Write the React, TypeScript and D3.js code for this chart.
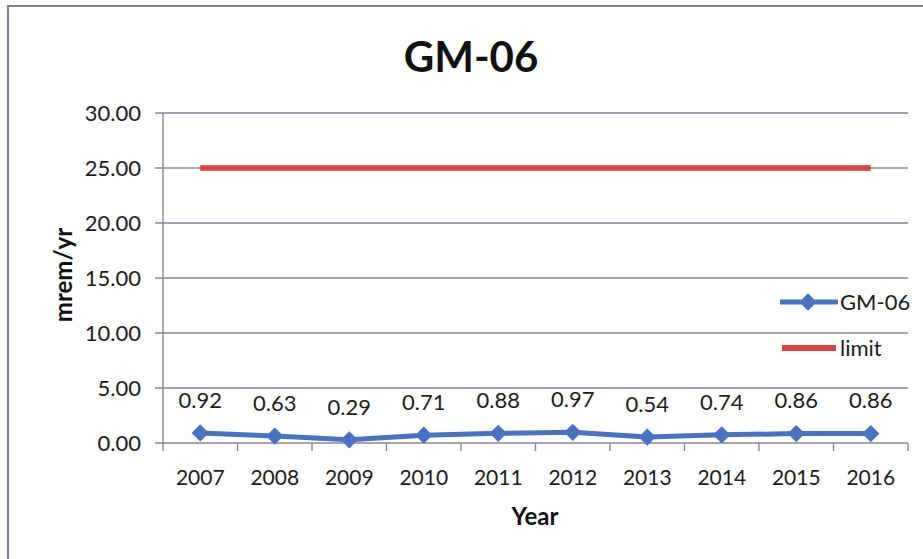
import React from 'react';
import * as d3 from 'd3';

const years = ['2007', '2008', '2009', '2010', '2011', '2012', '2013', '2014', '2015', '2016'];
const gm06 = [0.92, 0.63, 0.29, 0.71, 0.88, 0.97, 0.54, 0.74, 0.86, 0.86];
const limit = [25, 25, 25, 25, 25, 25, 25, 25, 25, 25];
const yTicks = [0, 5, 10, 15, 20, 25, 30];

const W = 923;
const H = 559;
const margin = { top: 113, right: 15, bottom: 116, left: 163 };
const FONT = 'Lato, "Open Sans", sans-serif';
const BLUE = '#4a72c4';
const RED = '#d8413f';
const GRID = '#8d8597';
const INK = '#1c1c1c';

export default function App() {
  const x = d3.scaleBand<string>().domain(years).range([margin.left, W - margin.right]);
  const y = d3.scaleLinear().domain([0, 30]).range([H - margin.bottom, margin.top]);
  const cx = (d: string) => (x(d) || 0) + x.bandwidth() / 2;

  const line = d3.line<number>()
    .x((_, i) => cx(years[i]))
    .y(d => y(d));

  const diamond = d3.symbol().type(d3.symbolDiamond2).size(190)();
  const x0 = margin.left;
  const x1 = W - margin.right;
  const y0 = y(0);

  return (
    <div style={{ position: 'absolute', left: 0, top: 0 }}>
      <svg width={W} height={H} style={{ display: 'block', background: '#fff' }}>
        {/* frame */}
        <path d={`M8,${H} L8,6 L${W},6`} fill="none" stroke="#8a7f95" strokeWidth={2.2} />

        <text x={471} y={72} textAnchor="middle" fontFamily={FONT} fontWeight="bold" fontSize={42} fill="#111">GM-06</text>

        {/* grid */}
        {yTicks.map(t => (
          <g key={t}>
            <line x1={x0 - 8} x2={x1} y1={y(t)} y2={y(t)} stroke={GRID} strokeWidth={1.4} />
            <text x={141} y={y(t)} dy="0.35em" textAnchor="end" fontFamily={FONT} fontSize={22} fill={INK}>{t.toFixed(2)}</text>
          </g>
        ))}
        <line x1={x0} x2={x0} y1={y(30)} y2={y0 + 8} stroke={GRID} strokeWidth={1.4} />
        {years.map(d => (
          <line key={d} x1={(x(d) || 0) + x.bandwidth()} x2={(x(d) || 0) + x.bandwidth()} y1={y0} y2={y0 + 8} stroke={GRID} strokeWidth={1.4} />
        ))}
        {years.map(d => (
          <text key={d} x={cx(d)} y={478} dy="0.35em" textAnchor="middle" fontFamily={FONT} fontSize={21} fill={INK}>{d}</text>
        ))}

        <text x={535} y={517} dy="0.35em" textAnchor="middle" fontFamily={FONT} fontWeight="bold" fontSize={24} fill="#111">Year</text>
        <text transform={`translate(64,${275}) rotate(-90)`} dy="0.35em" textAnchor="middle" fontFamily={FONT} fontWeight="bold" fontSize={24} fill="#111">mrem/yr</text>

        {/* limit */}
        <path d={line(limit) || ''} fill="none" stroke={RED} strokeWidth={5.5} />

        {/* GM-06 */}
        <path d={line(gm06) || ''} fill="none" stroke={BLUE} strokeWidth={5} strokeLinejoin="round" />
        {gm06.map((v, i) => (
          <path key={i} d={diamond || ''} transform={`translate(${cx(years[i])},${y(v)})`} fill={BLUE} />
        ))}
        {gm06.map((v, i) => (
          <text key={i} x={cx(years[i])} y={y(v) - 33} dy="0.35em" textAnchor="middle" fontFamily={FONT} fontSize={22} fill={INK}>{v.toFixed(2)}</text>
        ))}

        {/* legend */}
        <line x1={780} x2={838} y1={302} y2={302} stroke={BLUE} strokeWidth={5} />
        <path d={diamond || ''} transform="translate(808,302)" fill={BLUE} />
        <text x={840} y={302} dy="0.35em" fontFamily={FONT} fontSize={22} fill={INK}>GM-06</text>
        <line x1={782} x2={836} y1={348} y2={348} stroke={RED} strokeWidth={6} />
        <text x={840} y={348} dy="0.35em" fontFamily={FONT} fontSize={22} fill={INK}>limit</text>
      </svg>
    </div>
  );
}
